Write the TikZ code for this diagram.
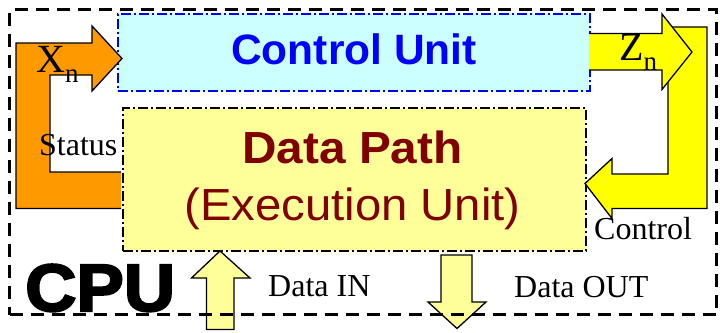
\documentclass[tikz,border=0pt]{standalone}
\usepackage{fontspec}
\setmainfont{Liberation Serif}
\newfontfamily\sansf{Liberation Sans}
\newfontfamily\cpuf{Liberation Sans Bold}[FakeBold=3]
\definecolor{cuFill}{HTML}{CCFFFF}
\definecolor{dpFill}{HTML}{FFFF99}
\definecolor{orangeA}{HTML}{FF9900}
\definecolor{yellowA}{HTML}{FFFF00}
\definecolor{dpText}{HTML}{800000}
\tikzset{
  cubox/.style={draw=blue, fill=cuFill, line width=1.5pt, dash pattern=on 10pt off 3pt on 2pt off 3pt, inner sep=0pt, anchor=north west},
  dpbox/.style={draw=black, fill=dpFill, line width=1.5pt, dash pattern=on 10pt off 3pt on 2pt off 3pt, inner sep=0pt, anchor=north west},
  outerbox/.style={draw=black, line width=3.3pt, dash pattern=on 13pt off 8pt, inner sep=0pt, anchor=north west},
  blockarrow/.style={draw=black, line width=1.3pt, line join=miter},
  lbl/.style={inner sep=0pt, anchor=base west, font=\fontsize{32}{32}\selectfont},
}
\begin{document}
\begin{tikzpicture}[x=1pt,y=-1pt]
\useasboundingbox (0,0) rectangle (720,332);
% boxes
\node[cubox, minimum width=472pt, minimum height=77pt] (cu) at (117,13) {};
\node[dpbox, minimum width=463pt, minimum height=143pt] (dp) at (122,107) {};
% orange status / Xn arrow
\fill[orangeA] (16,43) -- (92,43) -- (92,26) -- (122,58.5) -- (92,91) -- (92,75) -- (50,75) -- (50,172) -- (121,172) -- (121,208.5) -- (16,208.5) -- cycle;
\draw[blockarrow] (121,208.5) -- (16,208.5) -- (16,43) -- (92,43) -- (92,26) -- (122,58.5) -- (92,91) -- (92,75) -- (50,75) -- (50,172) -- (121,172);
% yellow control L-arrow
\draw[blockarrow, fill=yellowA] (668,27) -- (707,27) -- (707,208.5) -- (612,208.5) -- (612,218.5) -- (585,183.5) -- (612,158.5) -- (612,174) -- (668,174) -- cycle;
% yellow Zn arrow
\fill[yellowA] (589,33.5) -- (662,33.5) -- (662,14) -- (692,52) -- (662,89.5) -- (662,70) -- (589,70) -- cycle;
\draw[blockarrow] (589,33.5) -- (662,33.5) -- (662,14) -- (692,52) -- (662,89.5) -- (662,70) -- (589,70);
% data in / out arrows
\draw[blockarrow, fill=dpFill] (206.5,329.5) -- (206.5,278) -- (191.5,278) -- (220,251) -- (250,278) -- (234,278) -- (234,329.5) -- cycle;
\draw[blockarrow, fill=dpFill] (441,255) -- (472,255) -- (472,302) -- (486,302) -- (457,328.5) -- (428,302) -- (441,302) -- cycle;
% outer CPU frame
\node[outerbox, minimum width=707pt, minimum height=305pt] (cpubox) at (8,8) {};
% texts
\node[inner sep=0pt, anchor=base, font=\sansf\bfseries\fontsize{42.5}{42.5}\selectfont, text=blue] (cut) at (354,64) {Control Unit};
\node[inner sep=0pt, anchor=base, font=\sansf\bfseries\fontsize{45}{45}\selectfont, text=dpText] (dpt) at (352.5,163.3) {\scalebox{1.06}[1]{Data Path}};
\node[inner sep=0pt, anchor=base, font=\sansf\fontsize{45}{45}\selectfont, text=dpText] (dpt2) at (352.5,220) {\scalebox{1.05}[1]{(Execution Unit)}};
\node[inner sep=0pt, anchor=base west, font=\fontsize{40}{40}\selectfont] (xn) at (36,72) {X\raisebox{-10pt}{\fontsize{27}{27}\selectfont n}};
\node[inner sep=0pt, anchor=base west, font=\fontsize{40}{40}\selectfont] (zn) at (619,60) {Z\raisebox{-10pt}{\fontsize{27}{27}\selectfont n}};
\node[lbl] (status) at (39,155) {Status};
\node[lbl] (control) at (594,239) {Control};
\node[lbl] (din) at (268,296) {Data IN};
\node[lbl] (dout) at (514,297) {Data OUT};
\node[inner sep=0pt, anchor=base west, font=\cpuf\fontsize{67}{67}\selectfont] (cpu) at (25,311) {\scalebox{1.06}[1]{CPU}};
\end{tikzpicture}
\end{document}
